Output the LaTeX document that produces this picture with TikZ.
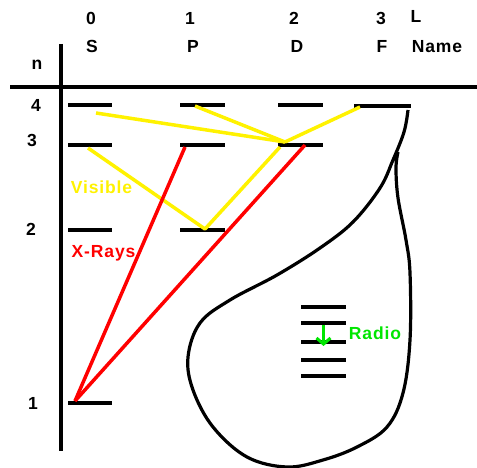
\documentclass[tikz,border=0pt]{standalone}
\usepackage{fontspec}
\setmainfont[LetterSpace=5]{Liberation Sans}
\usetikzlibrary{arrows.meta}
\definecolor{radiogreen}{RGB}{0,230,0}
\begin{document}
\begin{tikzpicture}[x=1pt,y=-1pt,
  lbl/.style={font=\bfseries\fontsize{17.5}{19}\selectfont, anchor=base, inner sep=0pt},
  bar/.style={line width=4pt},
  axisline/.style={line width=4pt},
  vis/.style={draw=yellow, line width=3.5pt, line join=round},
  xray/.style={draw=red, line width=3.5pt},
  blob/.style={line width=3.2pt, line join=round}]
\useasboundingbox (0,0) rectangle (477,468);
% axes
\draw[axisline] (10,87.5) -- (477,87.5);
\draw[axisline] (60.5,44) -- (60.5,451);
% header labels
\node[lbl] (l0) at (91,25) {0};
\node[lbl] (l1) at (190,25) {1};
\node[lbl] (l2) at (294,25) {2};
\node[lbl] (l3) at (381,25) {3};
\node[lbl] (lL) at (416,23) {L};
\node[lbl] (nS) at (92,53) {S};
\node[lbl] (nP) at (193,53) {P};
\node[lbl] (nD) at (297,53) {D};
\node[lbl] (nF) at (382,53) {F};
\node[lbl] (nName) at (437,53) {Name};
\node[lbl] (nn) at (37,70) {n};
\node[lbl] (n4) at (36,112) {4};
\node[lbl] (n3) at (32,147) {3};
\node[lbl] (n2) at (31,236) {2};
\node[lbl] (n1) at (33,409) {1};
% level bars
\draw[bar] (68,105) -- (112,105);
\draw[bar] (180,105) -- (225,105);
\draw[bar] (278,105) -- (323,105);
\draw[bar] (354,106.5) -- (411,106.5);
\draw[bar] (68,145) -- (112,145);
\draw[bar] (180,145) -- (225,145);
\draw[bar] (278,145) -- (323,145);
\draw[bar] (68,230) -- (112,230);
\draw[bar] (180,230) -- (225,230);
\draw[bar] (68,403) -- (112,403);
% transition end points
\coordinate (s4) at (96,113);
\coordinate (p4) at (195,106);
\coordinate (f4) at (360,107);
\coordinate (d3) at (285,142);
\coordinate (s3) at (88,148);
\coordinate (p2) at (205,229);
\coordinate (d3b) at (280,147);
\coordinate (s1) at (75,401);
\coordinate (p3) at (185,147);
\coordinate (d3r) at (305,145);
% visible transitions
\draw[vis] (s4) -- (d3);
\draw[vis] (p4) -- (d3);
\draw[vis] (f4) -- (d3);
\draw[vis] (s3) -- (p2) -- (d3b);
% x-ray transitions
\draw[xray] (s1) -- (p3);
\draw[xray] (s1) -- (d3r);
% labels
\node[lbl, text=yellow] (visible) at (101.5,194) {Visible};
\node[lbl, text=red] (xrays) at (103.5,258) {X-Rays};
% blob
\draw[blob] plot[smooth, tension=0.6] coordinates {(408,110) (404,132) (393,160) (380,188) (353,222) (320,248) (277,275) (230,300) (200,323) (188,357) (193,390) (213,427) (247,457) (287,467) (323,460) (357,447) (387,427) (403,393) (410,340) (410,273) (406,240) (398,198) (396,168) (398,152)};
% radio levels
\draw[bar] (301,307) -- (346,307);
\draw[bar] (301,323) -- (346,323);
\draw[bar] (301,342) -- (346,342);
\draw[bar] (301,360) -- (346,360);
\draw[bar] (301,376) -- (346,376);
\coordinate (rtop) at (323.5,325);
\coordinate (rbot) at (323.5,346);
\draw[radiogreen, line width=3pt, -{Straight Barb[length=6pt,width=14pt,line width=3pt]}] (rtop) -- (rbot);
\node[lbl, text=radiogreen] (radio) at (375,339) {Radio};
\end{tikzpicture}
\end{document}
